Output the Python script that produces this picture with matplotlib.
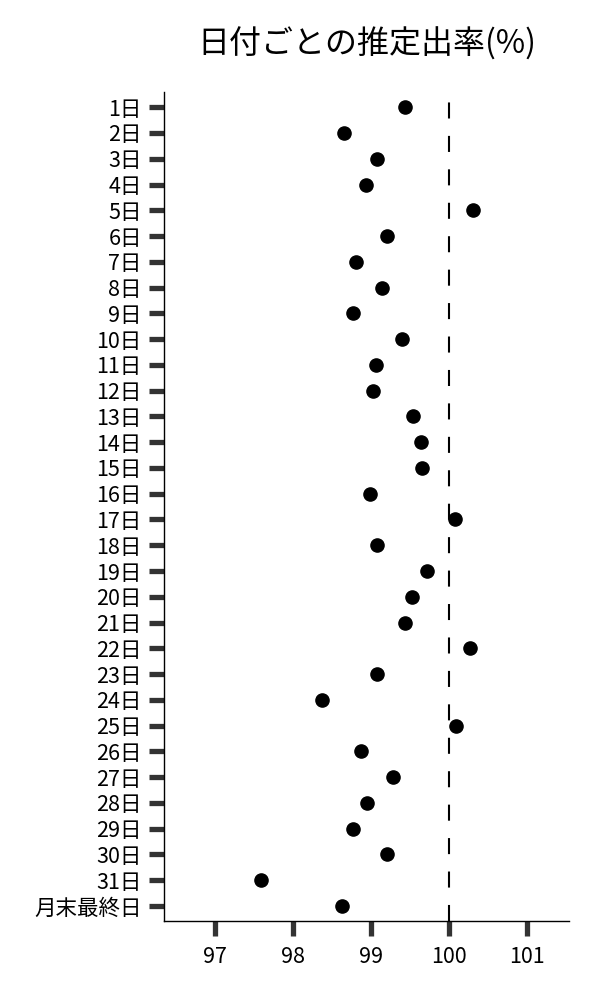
import matplotlib
matplotlib.use("Agg")
import matplotlib.pyplot as plt

plt.rcParams['font.family'] = ['Noto Sans CJK JP', 'DejaVu Sans']

# 日付ラベルと推定出率(%)
days = [f"{i}日" for i in range(1, 32)] + ["月末最終日"]
rates = [99.44, 98.65, 99.07, 98.93, 100.30, 99.20, 98.81, 99.14, 98.77, 99.39,
         99.06, 99.03, 99.54, 99.64, 99.65, 98.98, 100.07, 99.08, 99.71, 99.53,
         99.43, 100.27, 99.07, 98.37, 100.09, 98.87, 99.28, 98.95, 98.77, 99.20,
         97.59, 98.63]
x_ticks = [97, 98, 99, 100, 101]
ref_line = 100

fig = plt.figure(figsize=(6, 10), dpi=100)
ax = fig.add_axes([0.2733, 0.0793, 0.6747, 0.8287])

ypos = list(range(len(days)))
ax.scatter(rates, ypos, s=90, color="black", zorder=3)
ax.axvline(ref_line, color="black", lw=1.5, linestyle=(0, (7.7, 8.35)), zorder=2)

ax.set_yticks(ypos)
ax.set_yticklabels(days, fontsize=15.5)
ax.set_ylim(len(days) - 1 + 0.57, -0.59)
ax.set_xticks(x_ticks)
ax.set_xticklabels([str(t) for t in x_ticks], fontsize=15.5)
ax.set_xlim(96.35, 101.53)

ax.tick_params(axis="both", length=11, width=3.8, color="#333333", pad=5)
ax.tick_params(axis="x", pad=7)
for side in ["top", "right"]:
    ax.spines[side].set_visible(False)
for side in ["left", "bottom"]:
    ax.spines[side].set_linewidth(1.0)
    ax.spines[side].set_color("black")

fig.text(0.611, 0.956, "日付ごとの推定出率(%)", fontsize=23, ha="center", va="center")

fig.savefig("out.png", dpi=100)
